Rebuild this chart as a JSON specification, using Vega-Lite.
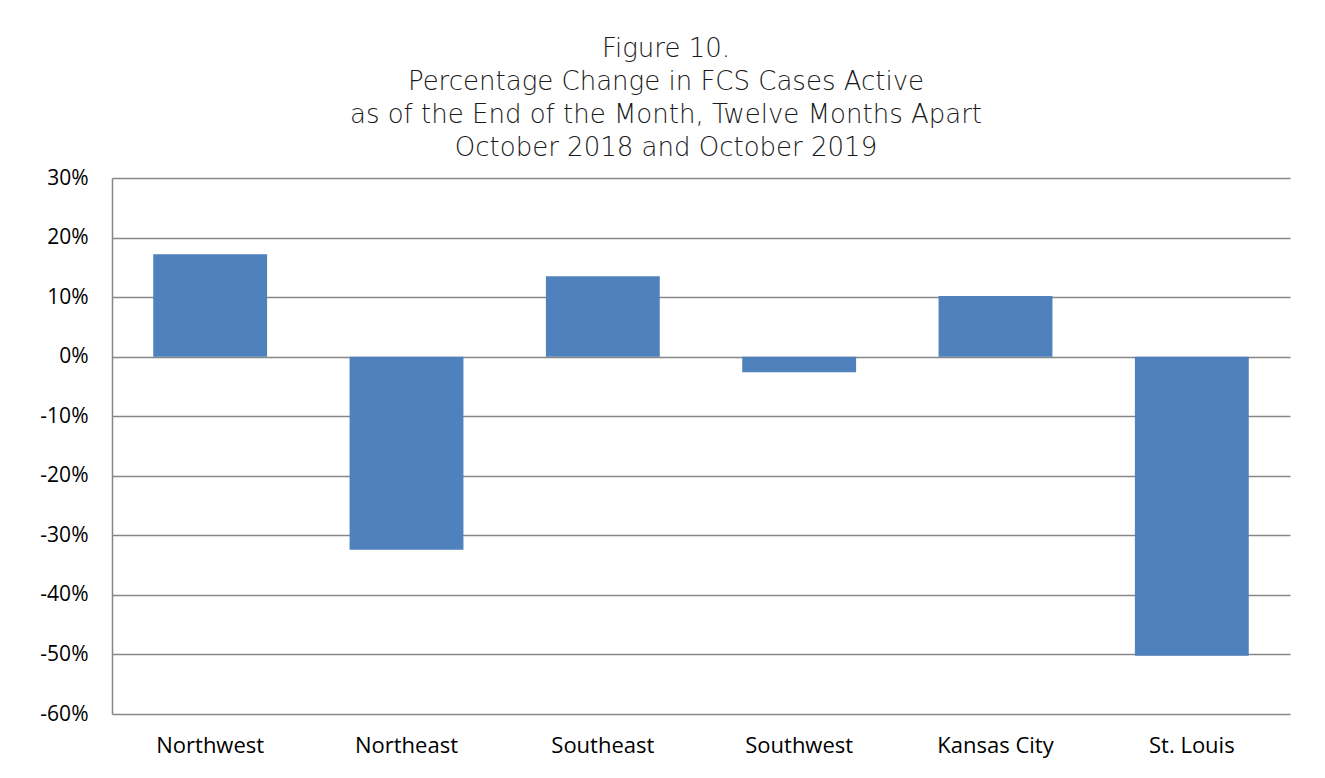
{
  "$schema": "https://vega.github.io/schema/vega-lite/v6.json",
  "autosize": {"type": "none"},
  "padding": {"left": 112, "top": 178, "right": 35, "bottom": 64},
  "width": 1178,
  "height": 536,
  "background": "white",
  "title": {
    "text": ["Figure 10.", "Percentage Change in FCS Cases Active", "as of the End of the Month, Twelve Months Apart", "October 2018 and October 2019"],
    "font": "DejaVu Sans",
    "fontSize": 26,
    "fontWeight": 200,
    "lineHeight": 33,
    "color": "#1a1a1a",
    "anchor": "middle",
    "dx": -35,
    "offset": 6
  },
  "data": {
    "values": [
      {"region": "Northwest", "change": 0.172},
      {"region": "Northeast", "change": -0.324},
      {"region": "Southeast", "change": 0.135},
      {"region": "Southwest", "change": -0.026},
      {"region": "Kansas City", "change": 0.102},
      {"region": "St. Louis", "change": -0.502}
    ]
  },
  "mark": {"type": "bar", "color": "#4F81BD"},
  "encoding": {
    "x": {
      "field": "region",
      "type": "nominal",
      "sort": null,
      "scale": {"paddingInner": 0.42, "paddingOuter": 0.21},
      "axis": {
        "title": null,
        "labelAngle": 0,
        "domain": false,
        "ticks": false,
        "labelFont": "Open Sans",
        "labelFontSize": 22,
        "labelColor": "#000000",
        "labelPadding": 21
      }
    },
    "y": {
      "field": "change",
      "type": "quantitative",
      "scale": {"domain": [-0.6, 0.3], "nice": false, "zero": false},
      "axis": {
        "title": null,
        "format": ".0%",
        "labelExpr": "replace(datum.label, '\u2212', '-')",
        "values": [-0.6, -0.5, -0.4, -0.3, -0.2, -0.1, 0, 0.1, 0.2, 0.3],
        "ticks": false,
        "domain": true,
        "domainColor": "#868686",
        "domainWidth": 1.5,
        "grid": true,
        "gridColor": "#868686",
        "gridWidth": 1.5,
        "labelFont": "Open Sans",
        "labelFontSize": 21,
        "labelColor": "#000000",
        "labelPadding": 24
      }
    }
  },
  "config": {"view": {"stroke": null}}
}
